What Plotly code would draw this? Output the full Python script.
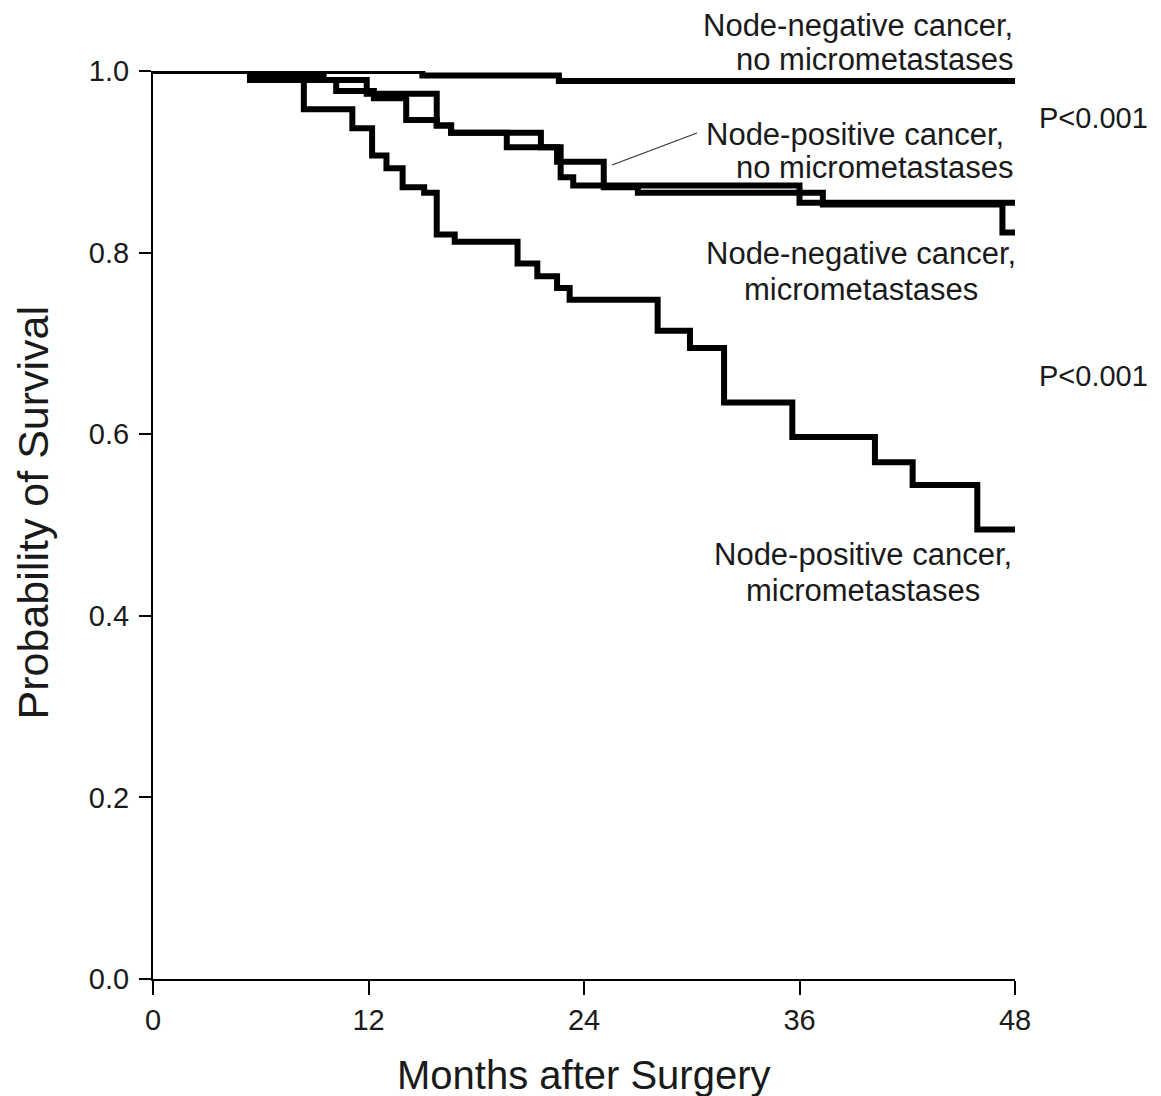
import plotly.graph_objects as go

# Kaplan-Meier step data (months, survival probability)
t_neg_nomicro = [0, 15.0, 22.6, 48]
s_neg_nomicro = [1.0, 0.995, 0.989, 0.989]

t_pos_nomicro = [0, 5.4, 10.2, 12.3, 14.1, 15.8, 16.6, 19.7, 22.7, 23.4, 36.0, 48]
s_pos_nomicro = [1.0, 0.99, 0.978, 0.970, 0.946, 0.940, 0.932, 0.916, 0.883, 0.874, 0.855, 0.855]

t_neg_micro = [0, 5.4, 9.5, 11.9, 15.8, 16.6, 21.6, 22.5, 25.1, 27.0, 37.3, 47.3, 48]
s_neg_micro = [1.0, 0.995, 0.99, 0.975, 0.940, 0.932, 0.916, 0.900, 0.872, 0.866, 0.853, 0.822, 0.822]

t_pos_micro = [0, 5.4, 8.4, 11.1, 12.2, 13.0, 13.9, 15.1, 15.8, 16.8, 20.3, 21.4, 22.5, 23.2,
               28.1, 29.9, 31.8, 35.6, 40.2, 42.3, 45.9, 48]
s_pos_micro = [1.0, 0.99, 0.958, 0.937, 0.907, 0.893, 0.872, 0.866, 0.820, 0.812, 0.788, 0.774,
               0.761, 0.748, 0.714, 0.695, 0.635, 0.597, 0.569, 0.544, 0.495, 0.495]

x_ticks = [0, 12, 24, 36, 48]
y_ticks = [0.0, 0.2, 0.4, 0.6, 0.8, 1.0]
y_ticktext = ["0.0", "0.2", "0.4", "0.6", "0.8", "1.0"]

X_MAX = 48
FONT = "Liberation Sans, Arial, sans-serif"
fig = go.Figure()
for t, s in [(t_neg_nomicro, s_neg_nomicro), (t_pos_nomicro, s_pos_nomicro),
             (t_neg_micro, s_neg_micro), (t_pos_micro, s_pos_micro)]:
    fig.add_trace(go.Scatter(x=t, y=s, mode="lines", line=dict(color="black", width=6, shape="hv"),
                             cliponaxis=False, showlegend=False, hoverinfo="skip"))

ann_font = dict(family=FONT, size=31, color="#1a1a1a")
p_font = dict(family=FONT, size=29, color="#1a1a1a")
# (month position, survival-scale position, text, anchor, font)
anns = [
    (48, 1.0500, "Node-negative cancer,", "right", ann_font),
    (48, 1.0130, "no micrometastases", "right", ann_font),
    (47.5, 0.9300, "Node-positive cancer,", "right", ann_font),
    (48, 0.8935, "no micrometastases", "right", ann_font),
    (39.4, 0.7990, "Node-negative cancer,", "center", ann_font),
    (39.4, 0.7590, "micrometastases", "center", ann_font),
    (39.55, 0.4670, "Node-positive cancer,", "center", ann_font),
    (39.55, 0.4280, "micrometastases", "center", ann_font),
    (49.25, 0.9480, "P&lt;0.001", "left", p_font),
    (49.25, 0.6640, "P&lt;0.001", "left", p_font),
]
for mx, yy, txt, anc, fnt in anns:
    fig.add_annotation(xref="paper", yref="paper", x=mx / X_MAX, y=yy, text=txt, xanchor=anc,
                       yanchor="middle", showarrow=False, font=fnt)

# axis titles
fig.add_annotation(xref="paper", yref="paper", x=-0.139, y=0.513, text="Probability of Survival",
                   showarrow=False, xanchor="center", yanchor="middle", textangle=-90,
                   font=dict(family=FONT, size=43, color="#1a1a1a"))
fig.add_annotation(xref="paper", yref="paper", x=0.5, y=-0.1057, text="Months after Surgery",
                   showarrow=False, xanchor="center", yanchor="middle",
                   font=dict(family=FONT, size=40, color="#1a1a1a"))

# pointer line
fig.add_shape(type="line", xref="x", yref="y", x0=25.56, y0=0.8965, x1=30.29, y1=0.9317,
              line=dict(color="#333333", width=1.2))

fig.update_layout(
    width=1153, height=1088,
    margin=dict(l=145, r=146, t=63, b=117, autoexpand=False),
    paper_bgcolor="white", plot_bgcolor="white",
    xaxis=dict(range=[0, X_MAX], tickvals=x_ticks, ticks="outside", ticklen=14, tickwidth=2,
               tickcolor="black", showline=True, linewidth=2, linecolor="black", showgrid=False,
               zeroline=False, automargin=False,
               tickfont=dict(family=FONT, size=29, color="#1a1a1a"), ticklabelstandoff=0),
    yaxis=dict(range=[0, 1], tickvals=y_ticks, ticktext=y_ticktext, ticks="outside", ticklen=12,
               tickwidth=2, tickcolor="black", showline=True, linewidth=2, linecolor="black",
               showgrid=False, zeroline=False, automargin=False,
               tickfont=dict(family=FONT, size=29, color="#1a1a1a"), ticklabelstandoff=4),
)
fig.write_html("out.html")
